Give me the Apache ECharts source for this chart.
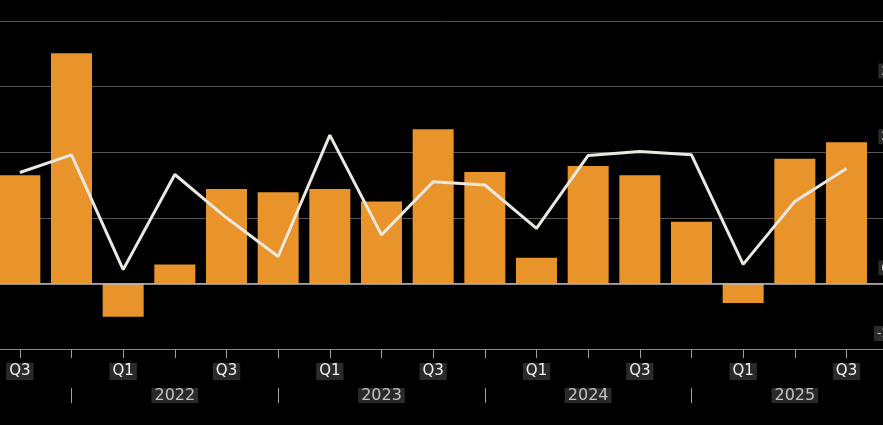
<!DOCTYPE html>
<html lang="en">
<head>
<meta charset="UTF-8">
<title>Quarterly growth</title>
<script src="https://cdn.jsdelivr.net/npm/echarts@6/dist/echarts.min.js"></script>
<style>
    html, body { margin: 0; padding: 0; background: #000; }
    #container { width: 883px; height: 425px; }
</style>
</head>
<body>
<div id="container"></div>
<script type="text/javascript">
    // quarters from 2021 Q3 to 2025 Q3
    var quarters = ['Q3','Q4','Q1','Q2','Q3','Q4','Q1','Q2','Q3','Q4','Q1','Q2','Q3','Q4','Q1','Q2','Q3'];
    var years = ['2021','2021','2022','2022','2022','2022','2023','2023','2023','2023','2024','2024','2024','2024','2025','2025','2025'];
    // bars (quarterly) and line values
    var barValues = [1.65, 3.51, -0.51, 0.29, 1.44, 1.39, 1.44, 1.25, 2.35, 1.70, 0.39, 1.79, 1.65, 0.94, -0.30, 1.90, 2.15];
    var lineValues = [1.69, 1.96, 0.21, 1.66, 1.00, 0.41, 2.26, 0.74, 1.55, 1.50, 0.84, 1.95, 2.01, 1.96, 0.29, 1.25, 1.75];
    // right-hand tick labels that show at the edge
    var rightLabels = { '-1': '-1', '0': '0', '2': '2', '3': '3' };

    var categories = quarters.map(function (q, i) { return q + ' ' + years[i]; });

    var myChart = echarts.init(document.getElementById('container'), null, { renderer: 'canvas' });

    var option = {
        backgroundColor: '#000',
        animation: false,
        grid: {
            top: 21,
            bottom: 76,
            left: -6,
            right: -41,
            outerBoundsMode: 'none'
        },
        xAxis: [
            {
                type: 'category',
                data: categories,
                max: categories.length,   // one empty slot past 2025 Q3, runs off the edge
                position: 'bottom',
                axisLine: { show: true, onZero: false, lineStyle: { color: '#8a8a8a', width: 1 } },
                axisTick: {
                    show: true,
                    alignWithLabel: true,
                    interval: 0,
                    length: 9,
                    lineStyle: { color: '#a0a0a0' }
                },
                axisLabel: {
                    interval: function (i) { return i % 2 === 0 && i < quarters.length; },
                    formatter: function (v, i) { return quarters[i] || ''; },
                    margin: 14,
                    color: '#f2f2f2',
                    fontFamily: 'DejaVu Sans',
                    fontSize: 15,
                    lineHeight: 15,
                    backgroundColor: '#2a2a2a',
                    padding: [1, 3, 1, 3]
                }
            },
            {
                type: 'category',
                data: categories,
                max: categories.length,
                position: 'bottom',
                offset: 39,
                axisLine: { show: false, onZero: false },
                axisTick: {
                    show: true,
                    alignWithLabel: true,
                    interval: function (i) { return quarters[i] === 'Q4'; },
                    length: 15,
                    lineStyle: { color: '#a0a0a0' }
                },
                axisLabel: {
                    interval: function (i) { return quarters[i] === 'Q2'; },
                    formatter: function (v, i) { return years[i] || ''; },
                    margin: 0,
                    color: '#c4c4c4',
                    fontFamily: 'DejaVu Sans',
                    fontSize: 16,
                    lineHeight: 15,
                    backgroundColor: '#2a2a2a',
                    padding: [0, 3, 0, 3]
                }
            }
        ],
        yAxis: [
            {
                type: 'value',
                min: -1,
                max: 4,
                interval: 1,
                axisLine: { show: false },
                axisTick: { show: false },
                axisLabel: { show: false },
                splitLine: { lineStyle: { color: '#555', width: 1 } }
            },
            {
                type: 'value',
                position: 'right',
                offset: -30,
                min: -1,
                max: 4,
                interval: 1,
                axisLine: { show: false },
                axisTick: { show: false },
                splitLine: { show: false },
                axisLabel: {
                    inside: true,
                    margin: 2,
                    verticalAlign: 'bottom',
                    padding: [0, 0, 8, 0],
                    formatter: function (v) {
                        var t = rightLabels[String(v)];
                        return t ? '{b|' + t + '}' : '';
                    },
                    rich: {
                        b: {
                            backgroundColor: '#2b2b2b',
                            color: '#dddddd',
                            fontFamily: 'DejaVu Sans',
                            fontSize: 12,
                            padding: [2, 3, 1, 3]
                        }
                    }
                }
            }
        ],
        series: [
            {
                name: 'Quarterly',
                type: 'bar',
                barWidth: 41,
                data: barValues,
                itemStyle: { color: '#e8942b' },
                markLine: {
                    silent: true,
                    symbol: 'none',
                    label: { show: false },
                    lineStyle: { color: '#bdbdbd', type: 'solid', width: 1.5 },
                    data: [{ yAxis: 0 }]
                }
            },
            {
                name: 'Line',
                type: 'line',
                data: lineValues,
                symbol: 'none',
                lineStyle: { color: '#ece7df', width: 3 },
                z: 3
            }
        ]
    };
    myChart.setOption(option);
</script>
</body>
</html>
